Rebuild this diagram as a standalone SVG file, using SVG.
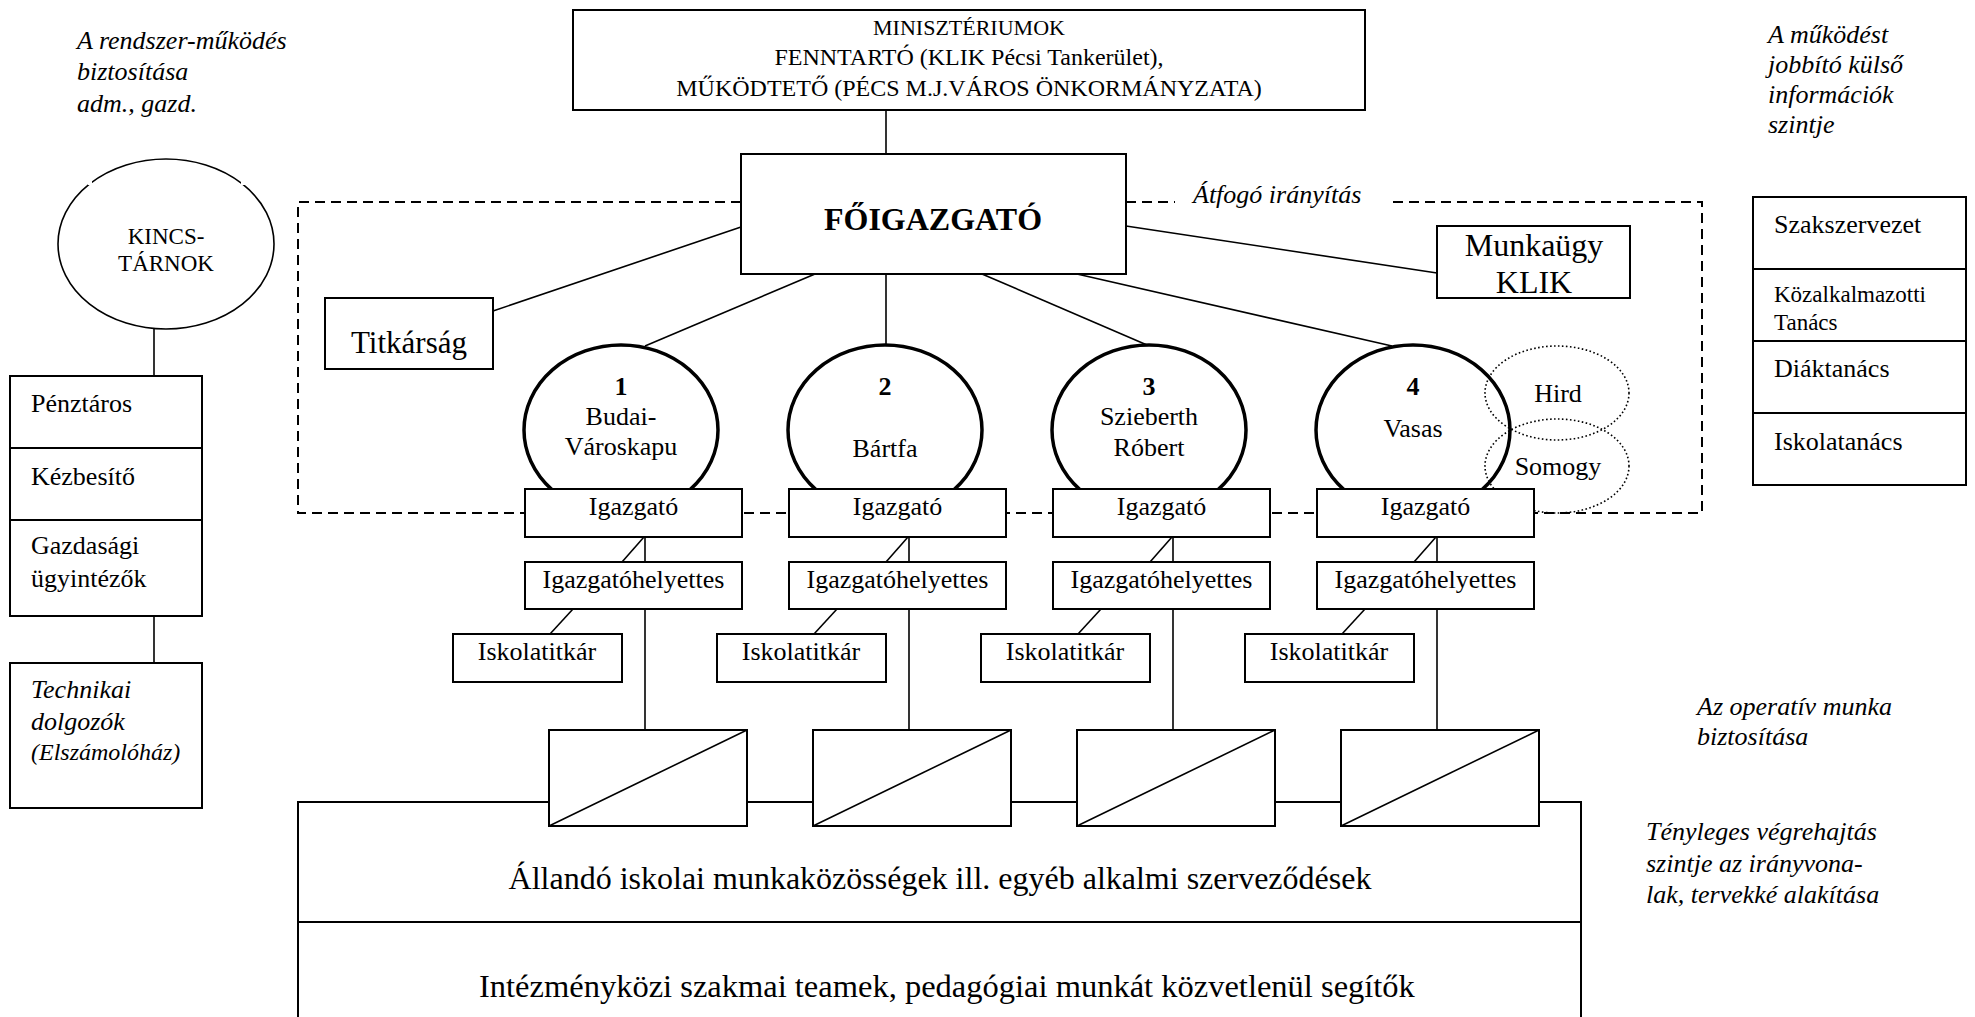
<svg xmlns="http://www.w3.org/2000/svg" width="1975" height="1017" viewBox="0 0 1975 1017">
<style>
text{font-family:"Liberation Serif","Times New Roman",serif;fill:#000}
.t{font-size:26px}
.it{font-size:26px;font-style:italic}
.c{text-anchor:middle}
.box{fill:#fff;stroke:#000;stroke-width:2}
.ln{stroke:#000;stroke-width:1.6;fill:none}
.school{fill:none;stroke:#000;stroke-width:3.5}
.dot{fill:none;stroke:#000;stroke-width:1.6;stroke-dasharray:1.6 2.4}
.dash{fill:none;stroke:#000;stroke-width:2;stroke-dasharray:10 6}
</style>
<rect width="1975" height="1017" fill="#fff"/>

<!-- annotations -->
<g id="ann-left">
<text class="it" x="77" y="49">A rendszer-működés</text>
<text class="it" x="77" y="80">biztosítása</text>
<text class="it" x="77" y="112">adm., gazd.</text>
</g>
<g id="ann-right-top">
<text class="it" x="1768" y="43">A működést</text>
<text class="it" x="1768" y="73">jobbító külső</text>
<text class="it" x="1768" y="103">információk</text>
<text class="it" x="1768" y="133">szintje</text>
</g>
<g id="ann-operativ">
<text class="it" x="1697" y="715">Az operatív munka</text>
<text class="it" x="1697" y="745">biztosítása</text>
</g>
<g id="ann-vegrehajtas">
<text class="it" x="1646" y="840">Tényleges végrehajtás</text>
<text class="it" x="1646" y="872">szintje az irányvona-</text>
<text class="it" x="1646" y="903">lak, tervekké alakítása</text>
</g>

<!-- dashed frame "Átfogó irányítás" -->
<g id="frame">
<path class="dash" d="M741 202 H298 V513 H1702 V202 H1391"/>
<path class="dash" d="M1126 202 H1175"/>
<text class="it" x="1193" y="203">Átfogó irányítás</text>
</g>

<!-- big bottom box -->
<g id="bottom-box">
<path class="box" d="M298 1020 V802 H1581 V1020"/>
<line x1="298" y1="922" x2="1581" y2="922" stroke="#000" stroke-width="2"/>
<text class="c" x="940" y="889" style="font-size:32px">Állandó iskolai munkaközösségek ill. egyéb alkalmi szerveződések</text>
<text x="479" y="997" style="font-size:32.5px">Intézményközi szakmai teamek, pedagógiai munkát közvetlenül segítők</text>
</g>

<!-- connectors -->
<g id="connectors">
<line class="ln" x1="886" y1="110" x2="886" y2="154"/>
<line class="ln" x1="741" y1="227" x2="493" y2="311"/>
<line class="ln" x1="815" y1="274" x2="645" y2="346"/>
<line class="ln" x1="886" y1="274" x2="886" y2="345"/>
<line class="ln" x1="982" y1="274" x2="1147" y2="345"/>
<line class="ln" x1="1077" y1="274" x2="1392" y2="346"/>
<line class="ln" x1="1126" y1="226" x2="1437" y2="273"/>
<line class="ln" x1="154" y1="328" x2="154" y2="376"/>
<line class="ln" x1="154" y1="616" x2="154" y2="663"/>
<!-- column 1 -->
<line class="ln" x1="645" y1="537" x2="645" y2="562"/>
<line class="ln" x1="644" y1="537" x2="622" y2="562"/>
<line class="ln" x1="573" y1="609" x2="550" y2="634"/>
<line class="ln" x1="645" y1="609" x2="645" y2="730"/>
<!-- column 2 -->
<line class="ln" x1="909" y1="537" x2="909" y2="562"/>
<line class="ln" x1="908" y1="537" x2="886" y2="562"/>
<line class="ln" x1="837" y1="609" x2="814" y2="634"/>
<line class="ln" x1="909" y1="609" x2="909" y2="730"/>
<!-- column 3 -->
<line class="ln" x1="1173" y1="537" x2="1173" y2="562"/>
<line class="ln" x1="1172" y1="537" x2="1150" y2="562"/>
<line class="ln" x1="1101" y1="609" x2="1078" y2="634"/>
<line class="ln" x1="1173" y1="609" x2="1173" y2="730"/>
<!-- column 4 -->
<line class="ln" x1="1437" y1="537" x2="1437" y2="562"/>
<line class="ln" x1="1436" y1="537" x2="1414" y2="562"/>
<line class="ln" x1="1365" y1="609" x2="1342" y2="634"/>
<line class="ln" x1="1437" y1="609" x2="1437" y2="730"/>
</g>

<!-- top nodes -->
<g id="ministry">
<rect class="box" x="573" y="10" width="792" height="100"/>
<text class="c" x="969" y="35" style="font-size:22px">MINISZTÉRIUMOK</text>
<text class="c" x="969" y="65" style="font-size:24px">FENNTARTÓ (KLIK Pécsi Tankerület),</text>
<text class="c" x="969" y="96" style="font-size:24px">MŰKÖDTETŐ (PÉCS M.J.VÁROS ÖNKORMÁNYZATA)</text>
</g>
<g id="foigazgato">
<rect class="box" x="741" y="154" width="385" height="120"/>
<text class="c" x="933" y="230" style="font-size:32px;font-weight:bold">FŐIGAZGATÓ</text>
</g>
<g id="titkarsag">
<rect class="box" x="325" y="298" width="168" height="71"/>
<text class="c" x="409" y="353" style="font-size:31px">Titkárság</text>
</g>
<g id="munkaugy">
<rect class="box" x="1437" y="226" width="193" height="72"/>
<text class="c" x="1534" y="256" style="font-size:32px">Munkaügy</text>
<text class="c" x="1534" y="293" style="font-size:32px">KLIK</text>
</g>

<!-- left column -->
<g id="kincstarnok">
<ellipse cx="166" cy="244" rx="108" ry="85" fill="#fff" stroke="#000" stroke-width="1.6"/>
<rect x="88" y="179" width="4" height="6" fill="#fff"/>
<rect x="241" y="179" width="4" height="6" fill="#fff"/>
<text class="c" x="166" y="244" style="font-size:23px">KINCS-</text>
<text class="c" x="166" y="271" style="font-size:23px">TÁRNOK</text>
</g>
<g id="gazdasag">
<rect class="box" x="10" y="376" width="192" height="240"/>
<line x1="10" y1="448" x2="202" y2="448" stroke="#000" stroke-width="2"/>
<line x1="10" y1="520" x2="202" y2="520" stroke="#000" stroke-width="2"/>
<text class="t" x="31" y="412">Pénztáros</text>
<text class="t" x="31" y="485">Kézbesítő</text>
<text class="t" x="31" y="554">Gazdasági</text>
<text class="t" x="31" y="587">ügyintézők</text>
</g>
<g id="technikai">
<rect class="box" x="10" y="663" width="192" height="145"/>
<text class="it" x="31" y="698">Technikai</text>
<text class="it" x="31" y="730">dolgozók</text>
<text x="31" y="760" style="font-size:24px;font-style:italic">(Elszámolóház)</text>
</g>

<!-- right column -->
<g id="kulso">
<rect class="box" x="1753" y="197" width="213" height="288"/>
<line x1="1753" y1="269" x2="1966" y2="269" stroke="#000" stroke-width="2"/>
<line x1="1753" y1="341" x2="1966" y2="341" stroke="#000" stroke-width="2"/>
<line x1="1753" y1="413" x2="1966" y2="413" stroke="#000" stroke-width="2"/>
<text class="t" x="1774" y="233">Szakszervezet</text>
<text x="1774" y="302" style="font-size:23px">Közalkalmazotti</text>
<text x="1774" y="330" style="font-size:23px">Tanács</text>
<text class="t" x="1774" y="377">Diáktanács</text>
<text class="t" x="1774" y="450">Iskolatanács</text>
</g>

<!-- satellites -->
<g id="hird">
<ellipse class="dot" cx="1557" cy="393" rx="72" ry="47"/>
<text class="t c" x="1558" y="402">Hird</text>
</g>
<g id="somogy">
<ellipse class="dot" cx="1557" cy="466" rx="72" ry="47"/>
<text class="t c" x="1558" y="475">Somogy</text>
</g>

<!-- schools -->
<g id="school-1">
<ellipse class="school" cx="621" cy="430" rx="97" ry="85"/>
<text class="c" x="621" y="395" style="font-size:26px;font-weight:bold">1</text>
<text class="t c" x="621" y="425">Budai-</text>
<text class="t c" x="621" y="455">Városkapu</text>
</g>
<g id="school-2">
<ellipse class="school" cx="885" cy="430" rx="97" ry="85"/>
<text class="c" x="885" y="395" style="font-size:26px;font-weight:bold">2</text>
<text class="t c" x="885" y="457">Bártfa</text>
</g>
<g id="school-3">
<ellipse class="school" cx="1149" cy="430" rx="97" ry="85"/>
<text class="c" x="1149" y="395" style="font-size:26px;font-weight:bold">3</text>
<text class="t c" x="1149" y="425">Szieberth</text>
<text class="t c" x="1149" y="456">Róbert</text>
</g>
<g id="school-4">
<ellipse class="school" cx="1413" cy="430" rx="97" ry="85"/>
<text class="c" x="1413" y="395" style="font-size:26px;font-weight:bold">4</text>
<text class="t c" x="1413" y="437">Vasas</text>
</g>

<!-- column 1 nodes -->
<g id="igazgato-1"><rect class="box" x="525" y="489" width="217" height="48"/><text class="t c" x="633.5" y="515">Igazgató</text></g>
<g id="helyettes-1"><rect class="box" x="525" y="562" width="217" height="47"/><text class="t c" x="633.5" y="588">Igazgatóhelyettes</text></g>
<g id="titkar-1"><rect class="box" x="453" y="634" width="169" height="48"/><text class="t c" x="537" y="660">Iskolatitkár</text></g>
<g id="mk-1"><rect class="box" x="549" y="730" width="198" height="96"/><line class="ln" x1="549" y1="826" x2="747" y2="730"/></g>
<!-- column 2 -->
<g id="igazgato-2"><rect class="box" x="789" y="489" width="217" height="48"/><text class="t c" x="897.5" y="515">Igazgató</text></g>
<g id="helyettes-2"><rect class="box" x="789" y="562" width="217" height="47"/><text class="t c" x="897.5" y="588">Igazgatóhelyettes</text></g>
<g id="titkar-2"><rect class="box" x="717" y="634" width="169" height="48"/><text class="t c" x="801" y="660">Iskolatitkár</text></g>
<g id="mk-2"><rect class="box" x="813" y="730" width="198" height="96"/><line class="ln" x1="813" y1="826" x2="1011" y2="730"/></g>
<!-- column 3 -->
<g id="igazgato-3"><rect class="box" x="1053" y="489" width="217" height="48"/><text class="t c" x="1161.5" y="515">Igazgató</text></g>
<g id="helyettes-3"><rect class="box" x="1053" y="562" width="217" height="47"/><text class="t c" x="1161.5" y="588">Igazgatóhelyettes</text></g>
<g id="titkar-3"><rect class="box" x="981" y="634" width="169" height="48"/><text class="t c" x="1065" y="660">Iskolatitkár</text></g>
<g id="mk-3"><rect class="box" x="1077" y="730" width="198" height="96"/><line class="ln" x1="1077" y1="826" x2="1275" y2="730"/></g>
<!-- column 4 -->
<g id="igazgato-4"><rect class="box" x="1317" y="489" width="217" height="48"/><text class="t c" x="1425.5" y="515">Igazgató</text></g>
<g id="helyettes-4"><rect class="box" x="1317" y="562" width="217" height="47"/><text class="t c" x="1425.5" y="588">Igazgatóhelyettes</text></g>
<g id="titkar-4"><rect class="box" x="1245" y="634" width="169" height="48"/><text class="t c" x="1329" y="660">Iskolatitkár</text></g>
<g id="mk-4"><rect class="box" x="1341" y="730" width="198" height="96"/><line class="ln" x1="1341" y1="826" x2="1539" y2="730"/></g>
</svg>
